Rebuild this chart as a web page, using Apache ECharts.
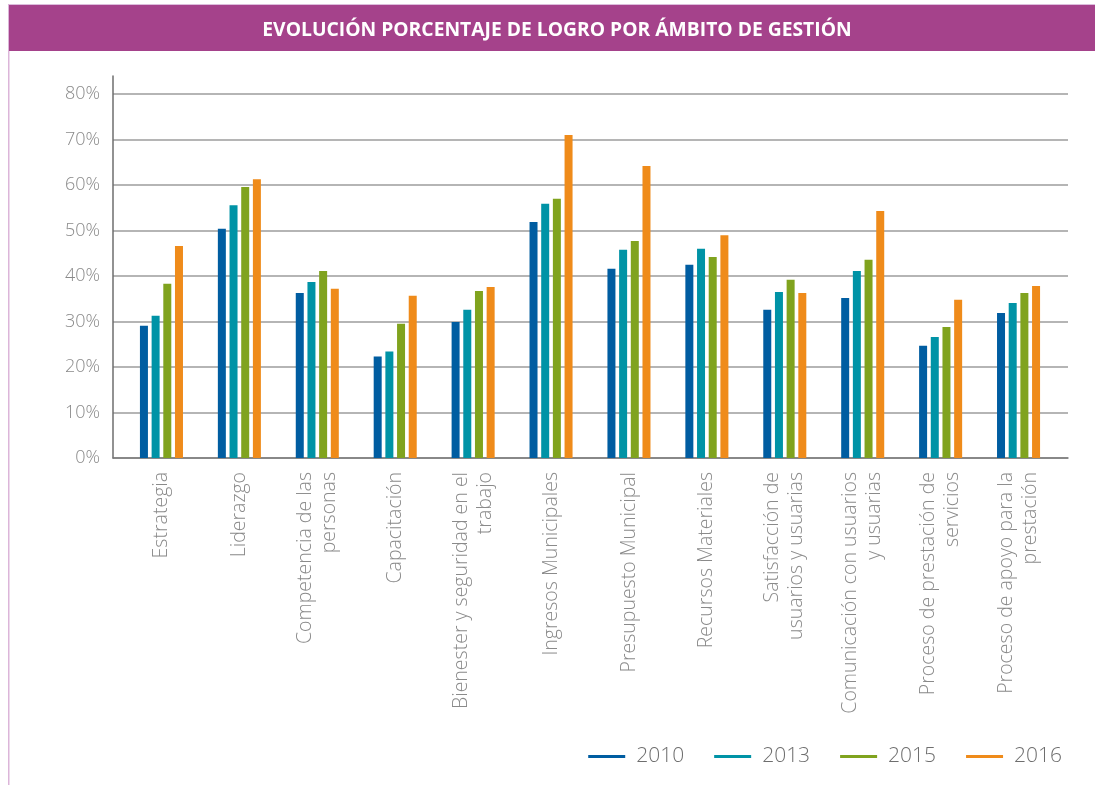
<!DOCTYPE html>
<html>
<head>
<meta charset="utf-8">
<script src="https://cdn.jsdelivr.net/npm/echarts@6/dist/echarts.min.js"></script>
<style>
  html, body { margin: 0; padding: 0; background: #fff; }
  #chart { width: 1095px; height: 785px; }
</style>
</head>
<body>
<div id="chart"></div>
<script>
// categorias (ambitos de gestion)
const categorias = [
    'Estrategia',
    'Liderazgo',
    'Competencia de las\npersonas',
    'Capacitación',
    'Bienester y seguridad en el\ntrabajo',
    'Ingresos Municipales',
    'Presupuesto Municipal',
    'Recursos Materiales',
    'Satisfacción de\nusuarios y usuarias',
    'Comunicación con usuarios\ny usuarias',
    'Proceso de prestación de\nservicios',
    'Proceso de apoyo para la\nprestación'
]
const anios = ['2010', '2013', '2015', '2016']
const colores = ['#005da1', '#0093a6', '#80a31e', '#ef8b1a']

// porcentaje de logro por año
const v2010 = [29.1, 50.4, 36.3, 22.3, 29.9, 51.9, 41.6, 42.5, 32.6, 35.2, 24.7, 31.9]
const v2013 = [31.3, 55.6, 38.7, 23.4, 32.6, 55.9, 45.8, 46.0, 36.5, 41.1, 26.6, 34.1]
const v2015 = [38.3, 59.6, 41.1, 29.5, 36.7, 57.0, 47.7, 44.2, 39.2, 43.6, 28.8, 36.3]
const v2016 = [46.6, 61.3, 37.2, 35.7, 37.6, 71.0, 64.2, 49.0, 36.3, 54.3, 34.8, 37.8]
const valores = [v2010, v2013, v2015, v2016]

const yTicks = [0, 10, 20, 30, 40, 50, 60, 70, 80]

const gris = '#8a8a8a'
const fuente = '"Open Sans", sans-serif'

let series = anios.map((a, i) => ({
    name: a,
    type: 'bar',
    xAxisIndex: 1,
    yAxisIndex: 1,
    barWidth: 8,
    barGap: '46%',
    itemStyle: { color: colores[i] },
    data: valores[i]
}))

// lineas de division: gris en 0..80, ninguna en el borde superior (84)
let coloresDivision = yTicks.map(() => '#9c9c9c')
coloresDivision.push('rgba(0,0,0,0)')

let option = {
    animation: false,
    backgroundColor: '#fff',
    title: {
        text: 'EVOLUCIÓN PORCENTAJE DE LOGRO POR ÁMBITO DE GESTIÓN',
        left: 552,
        textAlign: 'center',
        top: 16,
        textStyle: {
            color: '#fff',
            fontFamily: fuente,
            fontWeight: 'bold',
            fontSize: 19.3
        }
    },
    graphic: [
        { type: 'rect', z: -1, shape: { x: 9, y: 4, width: 1086, height: 1.5 }, style: { fill: '#dcbcdc' } },
        { type: 'rect', z: -1, shape: { x: 8, y: 4, width: 1.5, height: 781 }, style: { fill: '#dcb5d9' } },
        { type: 'rect', z: -1, shape: { x: 9, y: 5, width: 1086, height: 46 }, style: { fill: '#a5428b' } }
    ],
    legend: {
        data: anios,
        right: 28,
        top: 741,
        icon: 'rect',
        itemWidth: 37,
        itemHeight: 3,
        itemGap: 30,
        textStyle: {
            color: '#6e6e6e',
            fontSize: 21,
            fontFamily: fuente,
            fontWeight: 300,
            padding: [0, 0, 0, 6]
        }
    },
    grid: [
        { left: 113, right: 27, top: 76, height: 382 },
        { left: 122.5, right: 37.5, top: 76, height: 382 }
    ],
    xAxis: [
        {
            gridIndex: 0,
            type: 'category',
            data: [''],
            axisLine: { show: true, lineStyle: { color: '#7a7a7a', width: 1.5 } },
            axisTick: { show: false },
            axisLabel: { show: false },
            splitLine: { show: false }
        },
        {
            gridIndex: 1,
            type: 'category',
            data: categorias,
            axisLine: { show: false },
            axisTick: { show: false },
            axisLabel: {
                rotate: 90,
                interval: 0,
                margin: 14,
                color: gris,
                fontSize: 19.5,
                lineHeight: 24,
                fontFamily: fuente,
                fontWeight: 300,
                align: 'right'
            }
        }
    ],
    yAxis: [
        {
            gridIndex: 0,
            type: 'value',
            min: 0,
            max: 84,
            interval: 10,
            axisLine: { show: true, lineStyle: { color: '#6e6e6e', width: 1.5 } },
            axisTick: { show: false },
            axisLabel: {
                margin: 13,
                color: gris,
                fontSize: 18,
                fontFamily: fuente,
                fontWeight: 300,
                formatter: v => yTicks.includes(v) ? v + '%' : ''
            },
            splitLine: { show: true, lineStyle: { color: coloresDivision, width: 1.5 } }
        },
        {
            gridIndex: 1,
            type: 'value',
            min: 0,
            max: 84,
            show: false,
            splitLine: { show: false }
        }
    ],
    series: series
}

let chartDom = echarts.init(document.querySelector('#chart'))
chartDom.setOption(option)
</script>
</body>
</html>
